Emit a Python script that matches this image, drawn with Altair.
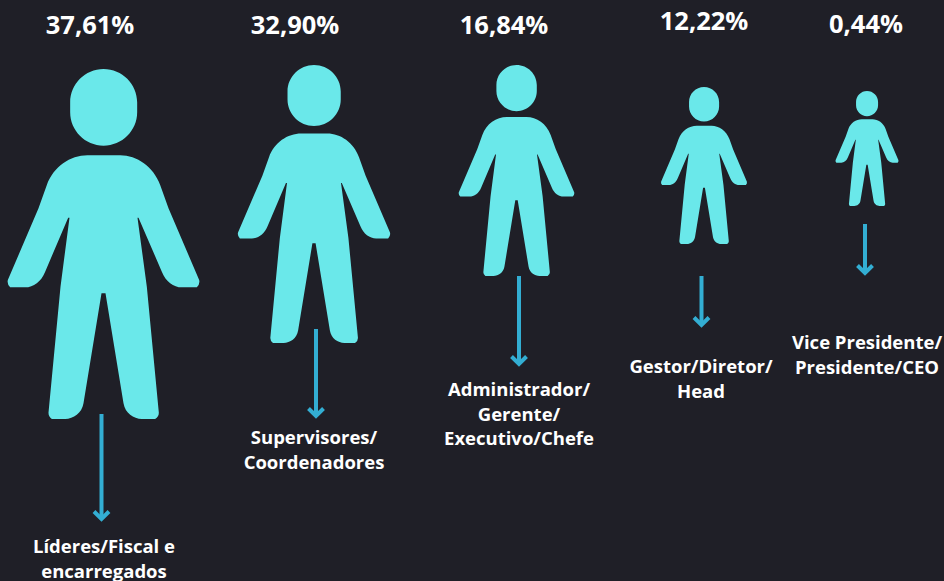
import re
import altair as alt
import pandas as pd

categories = [
    "Líderes/Fiscal e\nencarregados",
    "Supervisores/\nCoordenadores",
    "Administrador/\nGerente/\nExecutivo/Chefe",
    "Gestor/Diretor/\nHead",
    "Vice Presidente/\nPresidente/CEO",
]
shares = [37.61, 32.90, 16.84, 12.22, 0.44]

W, H = 944, 581
BG = "#1f1f27"
ICON = "#6ae8ea"
ARROW = "#33aed3"
FONT = "Open Sans"
ranks = list(range(len(categories)))

# drawn in a 3x grid around centre (310, 552), half height 525
RAW = (
    "M210 127 C210 72 255 27 310 27 C366 27 411 72 411 127 L411 157 "
    "C411 212 366 257 310 257 C255 257 210 212 210 157 Z "
    "M262 286 L360 286 C410 286 460 320 480 375 L505 445 L597 660 Q600 672 590 682 L545 682 "
    "C520 682 497 665 485 635 L415 473 L412 473 L440 680 L476 1058 Q476 1070 465 1077 L425 1077 "
    "C400 1077 375 1060 370 1030 L316 700 L304 700 L250 1030 C245 1060 220 1077 195 1077 L155 1077 "
    "Q145 1070 145 1058 L181 680 L208 473 L204 473 L135 635 C123 665 100 682 75 682 L30 682 "
    "Q20 672 23 660 L115 445 L140 375 C160 320 210 286 262 286 Z"
)


def norm(match):
    x, y = float(match.group(1)), float(match.group(2))
    return f"{(x - 310) / 525:.4f} {(y - 552) / 525:.4f}"


PERSON = re.sub(r"(\d+) (\d+)", norm, RAW)
CHEVRON = "M-1 -1 L0 0 L1 -1"

df = pd.DataFrame(
    {
        "category": categories,
        "share": shares,
        "rank": ranks,
        "pct": [f"{v:.2f}".replace(".", ",") + "%" for v in shares],
        "arrow_start": [r * 2 for r in ranks],
        "arrow_end": [r * 2 + 1 for r in ranks],
    }
)
base = alt.Chart(df)


def px(range_values):
    return alt.Scale(domain=ranks, range=range_values)


def noaxis(field, range_values, channel):
    return channel(field, scale=px(range_values), axis=None)


icon_heights = [350, 278, 211, 157, 115]
icons = base.mark_point(shape=PERSON, filled=True, fill=ICON, opacity=1, strokeWidth=0).encode(
    x=noaxis("rank:Q", [103.5, 314, 516.5, 704, 867], alt.X),
    y=noaxis("rank:Q", [244, 204, 170.5, 165.5, 148.5], alt.Y),
    size=alt.Size(
        "share:Q",
        scale=alt.Scale(domain=shares[::-1], range=[h * h for h in icon_heights[::-1]]),
        legend=None,
    ),
)

arrow_idx = list(range(10))
arrow_y = [414, 519, 329, 416, 276, 364, 276, 325, 224, 273]
arrow_scale = alt.Scale(domain=arrow_idx, range=arrow_y)
arrow_x = [101.5, 316, 519, 701.5, 865]

shafts = base.mark_rule(color=ARROW, strokeWidth=4).encode(
    x=noaxis("rank:Q", arrow_x, alt.X),
    y=alt.Y("arrow_start:Q", scale=arrow_scale, axis=None),
    y2="arrow_end:Q",
)
heads = base.mark_point(
    shape=CHEVRON, filled=False, stroke=ARROW, strokeWidth=4, opacity=1, size=225
).encode(
    x=noaxis("rank:Q", arrow_x, alt.X),
    y=alt.Y("arrow_end:Q", scale=arrow_scale, axis=None),
)

pct = base.mark_text(font=FONT, fontWeight="bold", fontSize=25.5, color="#ffffff").encode(
    x=noaxis("rank:Q", [90, 295, 504, 704, 866], alt.X),
    y=noaxis("rank:Q", [26, 26, 26, 22, 25], alt.Y),
    text="pct:N",
)

labels = base.mark_text(
    font=FONT,
    fontWeight="bold",
    fontSize=18.5,
    color="#ffffff",
    lineBreak="\n",
    lineHeight=24.5,
    baseline="top",
).encode(
    x=noaxis("rank:Q", [104, 314, 519, 701, 867], alt.X),
    y=noaxis("rank:Q", [538, 429, 381, 358, 334], alt.Y),
    text="category:N",
)

chart = (
    alt.layer(icons, shafts, heads, pct, labels)
    .resolve_scale(x="independent", y="independent", size="independent")
    .properties(
        width=W,
        height=H,
        background=BG,
        padding=0,
        autosize=alt.AutoSizeParams(type="none"),
    )
    .configure_view(stroke=None)
)

chart.save(
    "out.html",
    embed_options={
        "renderer": "svg",
        "actions": False,
        "defaultStyle": f"html,body{{margin:0;background:{BG};overflow:hidden}}",
    },
)
